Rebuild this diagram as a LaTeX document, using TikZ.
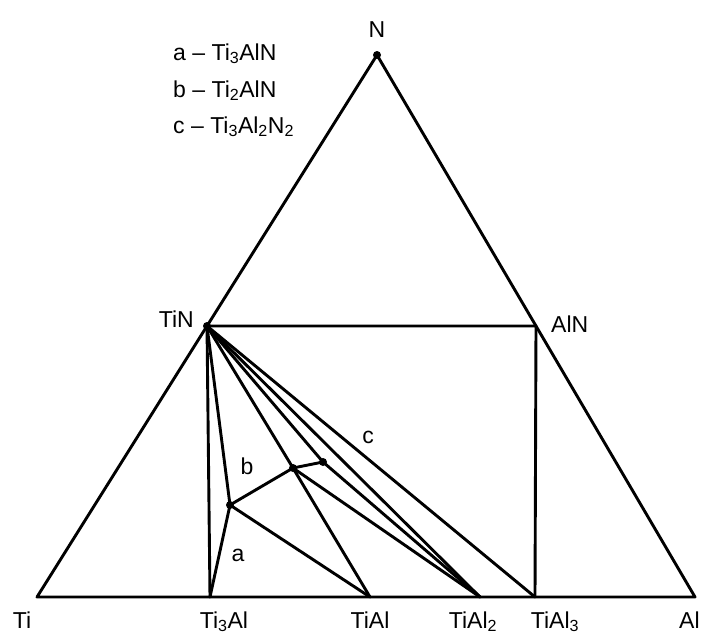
\documentclass[tikz,border=0pt]{standalone}
\usepackage{fontspec}
\setmainfont{Liberation Sans}
\begin{document}
\begin{tikzpicture}[x=1pt,y=-1pt,
  ln/.style={line width=2.9pt,line cap=round,line join=round},
  lbl/.style={inner sep=0pt,font=\fontsize{23}{27}\selectfont},
  pt/.style={circle,fill=black,inner sep=0pt,minimum size=8pt}]
\useasboundingbox (0,0) rectangle (702,637);
% vertices
\coordinate (Ti) at (37,597);
\coordinate (Al) at (695,597);
\node[pt] (N) at (377,55) {};
\node[pt] (TiN) at (207,326) {};
\coordinate (AlN) at (536,326);
\coordinate (Ti3Al) at (210,597);
\coordinate (TiAl) at (370,597);
\coordinate (TiAl2) at (480,597);
\coordinate (TiAl3) at (535,597);
\node[pt] (a) at (230,505) {};
\node[pt] (b) at (293,468) {};
\node[pt] (c) at (323,462) {};
% outline
\draw[ln] (Ti) -- (N.center) -- (Al) -- cycle;
\draw[ln] (TiN.center) -- (AlN) -- (TiAl3);
\draw[ln] (TiN.center) -- (Ti3Al);
\draw[ln] (TiN.center) -- (a.center) -- (Ti3Al);
\draw[ln] (a.center) -- (TiAl);
\draw[ln] (a.center) -- (b.center) -- (c.center);
\draw[ln] (TiN.center) -- (b.center) -- (TiAl);
\draw[ln] (b.center) -- (TiAl2);
\draw[ln] (TiN.center) -- (c.center) -- (TiAl2);
\draw[ln] (TiN.center) -- (TiAl2);
\draw[ln] (TiN.center) -- (TiAl3);
% labels
\node[lbl,anchor=base] (lN) at (377,37) {N};
\node[lbl,anchor=base east] (lTiN) at (194,327) {TiN};
\node[lbl,anchor=base west] (lAlN) at (551,332) {AlN};
\node[lbl,anchor=base] (lTi) at (22,628) {Ti};
\node[lbl,anchor=base] (lTi3Al) at (224,628) {Ti\textsubscript{3}Al};
\node[lbl,anchor=base] (lTiAl) at (370,628) {TiAl};
\node[lbl,anchor=base] (lTiAl2) at (473,628) {TiAl\textsubscript{2}};
\node[lbl,anchor=base] (lTiAl3) at (555,628) {TiAl\textsubscript{3}};
\node[lbl,anchor=base west] (lAl) at (679,628) {Al};
\node[lbl] (la) at (238,555) {a};
\node[lbl] (lb) at (247,466) {b};
\node[lbl] (lc) at (368,437) {c};
\node[lbl,anchor=base west] (leg1) at (173,60) {a -- Ti\textsubscript{3}AlN};
\node[lbl,anchor=base west] (leg2) at (173,97) {b -- Ti\textsubscript{2}AlN};
\node[lbl,anchor=base west] (leg3) at (173,133) {c -- Ti\textsubscript{3}Al\textsubscript{2}N\textsubscript{2}};
\end{tikzpicture}
\end{document}
